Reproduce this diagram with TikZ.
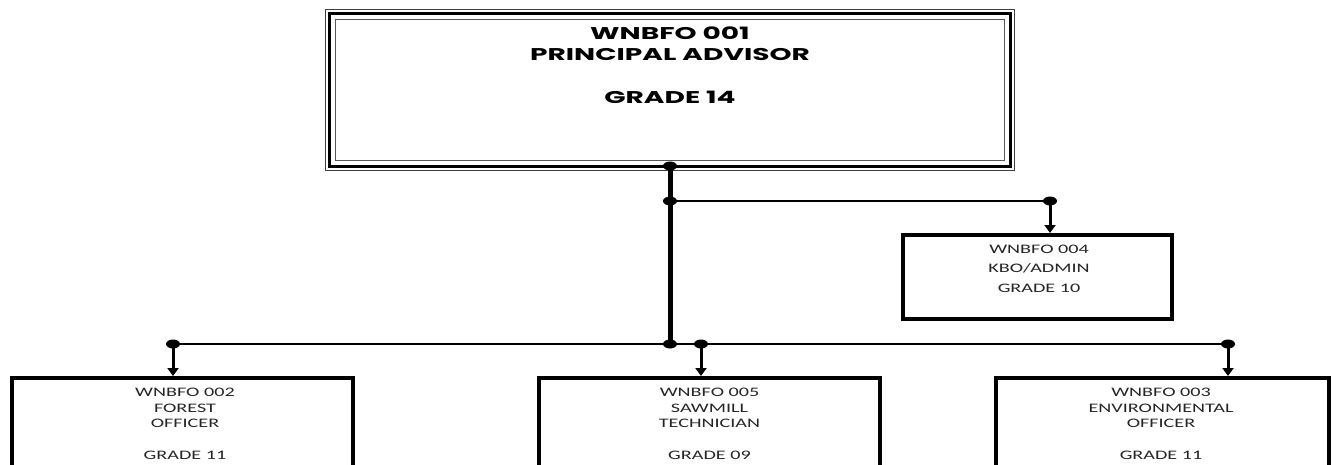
\documentclass[tikz,border=0pt]{standalone}
\usepackage{fontspec}
\usetikzlibrary{arrows.meta}
\newfontfamily\topfont[FakeStretch=1.65]{Poppins}
\newfontfamily\boxfont[FakeStretch=1.55]{Carlito}
\begin{document}
\begin{tikzpicture}[x=1pt,y=-1pt,
  bigtext/.style={align=center,inner sep=0pt,anchor=base,text=black,
    font=\topfont\bfseries\fontsize{17}{21}\selectfont},
  smalltext/.style={align=center,inner sep=0pt,anchor=base,text=black!85,
    font=\boxfont\fontsize{13}{15.6}\selectfont},
  kbotext/.style={smalltext,font=\boxfont\fontsize{13}{19.5}\selectfont},
  posbox/.style={draw,line width=4pt,inner sep=0pt},
  bus/.style={line width=2.6pt},
  trunk/.style={line width=5pt},
  drop/.style={line width=3pt,-{Triangle[width=11pt,length=8pt]}},
  jdot/.style={fill=black}]
\clip (0,0) rectangle (1338,464);
\fill[white] (0,0) rectangle (1338,464);
% principal advisor box (triple border)
\node[minimum width=690pt,minimum height=162pt,inner sep=0pt] (pa) at (670,90) {};
\draw[line width=1.4pt,black!75] ([shift={(0.7,0.7)}]pa.north west) rectangle ([shift={(-0.7,-0.7)}]pa.south east);
\draw[line width=3pt] ([shift={(5,5)}]pa.north west) rectangle ([shift={(-5,-5)}]pa.south east);
\draw[line width=1.4pt,black!65] ([shift={(10.5,10.5)}]pa.north west) rectangle ([shift={(-10.5,-10.5)}]pa.south east);
\node[bigtext] (patext) at (670,103) {WNBFO 001\\PRINCIPAL ADVISOR\\[22pt]GRADE 14};
% other boxes
\node[posbox,minimum width=269pt,minimum height=84pt] (kbo) at (1037.5,277) {};
\node[kbotext] (kbotxt) at (1039,292) {WNBFO 004\\KBO/ADMIN\\GRADE 10};
\node[posbox,minimum width=341pt,minimum height=122pt] (fo) at (182.5,439) {};
\node[smalltext] (fotxt) at (185,459) {WNBFO 002\\FOREST\\OFFICER\\[15.6pt]GRADE 11};
\node[posbox,minimum width=341pt,minimum height=122pt] (st) at (709.5,439) {};
\node[smalltext] (sttxt) at (709.5,459) {WNBFO 005\\SAWMILL\\TECHNICIAN\\[15.6pt]GRADE 09};
\node[posbox,minimum width=333pt,minimum height=122pt] (eo) at (1162.5,439) {};
\node[smalltext] (eotxt) at (1161,459) {WNBFO 003\\ENVIRONMENTAL\\OFFICER\\[15.6pt]GRADE 11};
% junctions
\coordinate (jtop) at (670,166);
\coordinate (jk) at (670,201);
\coordinate (jke) at (1050,201);
\coordinate (jb) at (670,344);
\coordinate (jfo) at (173,344);
\coordinate (jst) at (701,344);
\coordinate (jeo) at (1228,344);
% connectors
\draw[trunk] (jtop) -- (jb);
\draw[bus] (jk) -- (jke);
\draw[bus] (jfo) -- (jeo);
\draw[drop] (jke) -- (jke |- kbo.north);
\draw[drop] (jfo) -- (jfo |- fo.north);
\draw[drop] (jst) -- (jst |- st.north);
\draw[drop] (jeo) -- (jeo |- eo.north);
% dots
\foreach \c in {jtop,jk,jke,jb,jfo,jst,jeo}
  \fill[jdot] (\c) ellipse [x radius=7pt,y radius=4.5pt];
\end{tikzpicture}
\end{document}
